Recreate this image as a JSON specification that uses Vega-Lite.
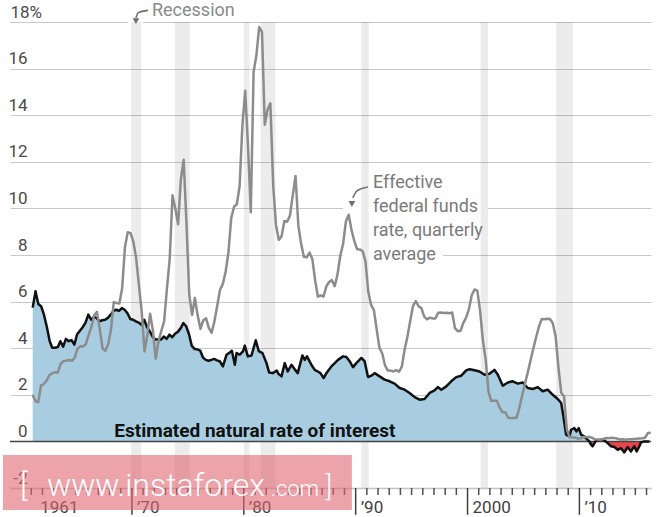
{
  "$schema": "https://vega.github.io/schema/vega-lite/v6.json",
  "width": 641,
  "height": 466,
  "autosize": "none",
  "padding": {"left": 10, "top": 22, "right": 14, "bottom": 29},
  "background": "white",
  "config": {
    "view": {"stroke": null},
    "font": "Roboto",
    "axis": {"labelFont": "Roboto"},
    "text": {"font": "Roboto"}
  },
  "datasets": {
    "gaps": [
      {"t1": 1969.64, "t2": 1971.0, "v1": 17.85, "v2": 18.15},
      {"t1": 1988.86, "t2": 2001.8, "v1": 9.85, "v2": 10.15},
      {"t1": 1988.86, "t2": 1997.8, "v1": 7.85, "v2": 8.15}
    ],
    "recessions": [
      {"start": 1969.92, "end": 1970.83},
      {"start": 1973.83, "end": 1975.17},
      {"start": 1980.0, "end": 1980.5},
      {"start": 1981.5, "end": 1982.83},
      {"start": 1990.5, "end": 1991.17},
      {"start": 2001.17, "end": 2001.83},
      {"start": 2007.92, "end": 2009.42}
    ],
    "years": [
      {"yr": 1961}, {"yr": 1962}, {"yr": 1963}, {"yr": 1964}, {"yr": 1965}, {"yr": 1966}, {"yr": 1967}, {"yr": 1968}, {"yr": 1969},
      {"yr": 1971}, {"yr": 1972}, {"yr": 1973}, {"yr": 1974}, {"yr": 1975}, {"yr": 1976}, {"yr": 1977}, {"yr": 1978}, {"yr": 1979},
      {"yr": 1981}, {"yr": 1982}, {"yr": 1983}, {"yr": 1984}, {"yr": 1985}, {"yr": 1986}, {"yr": 1987}, {"yr": 1988}, {"yr": 1989},
      {"yr": 1991}, {"yr": 1992}, {"yr": 1993}, {"yr": 1994}, {"yr": 1995}, {"yr": 1996}, {"yr": 1997}, {"yr": 1998}, {"yr": 1999},
      {"yr": 2001}, {"yr": 2002}, {"yr": 2003}, {"yr": 2004}, {"yr": 2005}, {"yr": 2006}, {"yr": 2007}, {"yr": 2008}, {"yr": 2009},
      {"yr": 2011}, {"yr": 2012}, {"yr": 2013}, {"yr": 2014}, {"yr": 2015}, {"yr": 2016}
    ],
    "decades": [
      {"yr": 1970, "lab": "’70"}, {"yr": 1980, "lab": "’80"}, {"yr": 1990, "lab": "’90"}, {"yr": 2000, "lab": "2000"}, {"yr": 2010, "lab": "’10"}
    ],
    "natural": [
      {"t": 1961.13, "r": 5.74}, {"t": 1961.38, "r": 6.44}, {"t": 1961.63, "r": 5.9}, {"t": 1961.88, "r": 5.8},
      {"t": 1962.13, "r": 5.45}, {"t": 1962.4, "r": 4.9}, {"t": 1962.65, "r": 4.3}, {"t": 1962.88, "r": 4.02},
      {"t": 1963.13, "r": 4.02}, {"t": 1963.38, "r": 4.05}, {"t": 1963.6, "r": 4.3}, {"t": 1963.85, "r": 4.07},
      {"t": 1964.1, "r": 4.4}, {"t": 1964.35, "r": 4.3}, {"t": 1964.6, "r": 4.35}, {"t": 1964.85, "r": 4.15},
      {"t": 1965.1, "r": 4.6}, {"t": 1965.35, "r": 4.75}, {"t": 1965.6, "r": 4.9}, {"t": 1965.85, "r": 5.1},
      {"t": 1966.1, "r": 5.44}, {"t": 1966.35, "r": 5.22}, {"t": 1966.6, "r": 5.35}, {"t": 1966.85, "r": 5.29},
      {"t": 1967.1, "r": 5.15}, {"t": 1967.35, "r": 5.2}, {"t": 1967.6, "r": 5.22}, {"t": 1967.85, "r": 5.3},
      {"t": 1968.1, "r": 5.44}, {"t": 1968.35, "r": 5.6}, {"t": 1968.6, "r": 5.65}, {"t": 1968.85, "r": 5.6},
      {"t": 1969.1, "r": 5.72}, {"t": 1969.35, "r": 5.65}, {"t": 1969.6, "r": 5.5}, {"t": 1969.85, "r": 5.25},
      {"t": 1970.1, "r": 5.22}, {"t": 1970.35, "r": 5.15}, {"t": 1970.6, "r": 5.1}, {"t": 1970.85, "r": 5.0},
      {"t": 1971.1, "r": 5.22}, {"t": 1971.35, "r": 4.9}, {"t": 1971.6, "r": 4.72}, {"t": 1971.85, "r": 4.5},
      {"t": 1972.1, "r": 4.37}, {"t": 1972.35, "r": 4.37}, {"t": 1972.6, "r": 4.37}, {"t": 1972.85, "r": 4.5},
      {"t": 1973.1, "r": 4.4}, {"t": 1973.35, "r": 4.58}, {"t": 1973.6, "r": 4.47}, {"t": 1973.85, "r": 4.62},
      {"t": 1974.1, "r": 4.7}, {"t": 1974.35, "r": 4.85}, {"t": 1974.6, "r": 5.08}, {"t": 1974.85, "r": 4.94},
      {"t": 1975.1, "r": 4.6}, {"t": 1975.35, "r": 4.1}, {"t": 1975.6, "r": 3.97}, {"t": 1975.85, "r": 3.95},
      {"t": 1976.1, "r": 3.9}, {"t": 1976.35, "r": 3.6}, {"t": 1976.6, "r": 3.5}, {"t": 1976.85, "r": 3.46},
      {"t": 1977.1, "r": 3.5}, {"t": 1977.35, "r": 3.54}, {"t": 1977.6, "r": 3.48}, {"t": 1977.85, "r": 3.44},
      {"t": 1978.13, "r": 3.22}, {"t": 1978.46, "r": 3.72}, {"t": 1978.75, "r": 3.82}, {"t": 1978.93, "r": 3.89},
      {"t": 1979.2, "r": 3.29}, {"t": 1979.35, "r": 3.79}, {"t": 1979.64, "r": 3.72}, {"t": 1979.94, "r": 3.87},
      {"t": 1980.09, "r": 4.11}, {"t": 1980.36, "r": 3.65}, {"t": 1980.69, "r": 3.69}, {"t": 1981.07, "r": 4.34},
      {"t": 1981.34, "r": 3.87}, {"t": 1981.67, "r": 3.79}, {"t": 1982.03, "r": 3.36}, {"t": 1982.26, "r": 2.96},
      {"t": 1982.59, "r": 2.93}, {"t": 1982.95, "r": 3.04}, {"t": 1983.1, "r": 2.9}, {"t": 1983.37, "r": 2.79},
      {"t": 1983.66, "r": 3.36}, {"t": 1983.93, "r": 3.0}, {"t": 1984.26, "r": 3.29}, {"t": 1984.55, "r": 3.1},
      {"t": 1984.82, "r": 2.93}, {"t": 1985.24, "r": 3.69}, {"t": 1985.45, "r": 3.5}, {"t": 1985.65, "r": 3.65},
      {"t": 1986.04, "r": 3.29}, {"t": 1986.34, "r": 3.07}, {"t": 1986.61, "r": 3.0}, {"t": 1986.85, "r": 2.93},
      {"t": 1987.14, "r": 2.72}, {"t": 1987.38, "r": 2.93}, {"t": 1987.83, "r": 3.22}, {"t": 1988.13, "r": 3.36},
      {"t": 1988.42, "r": 3.5}, {"t": 1988.87, "r": 3.65}, {"t": 1989.17, "r": 3.62}, {"t": 1989.46, "r": 3.44},
      {"t": 1989.76, "r": 3.19}, {"t": 1990.06, "r": 3.36}, {"t": 1990.51, "r": 3.58}, {"t": 1990.8, "r": 3.44},
      {"t": 1991.1, "r": 2.76}, {"t": 1991.4, "r": 2.82}, {"t": 1991.7, "r": 2.93}, {"t": 1992.14, "r": 2.79},
      {"t": 1992.59, "r": 2.65}, {"t": 1993.04, "r": 2.58}, {"t": 1993.48, "r": 2.48}, {"t": 1993.93, "r": 2.29},
      {"t": 1994.38, "r": 2.22}, {"t": 1994.82, "r": 2.08}, {"t": 1995.27, "r": 1.9}, {"t": 1995.71, "r": 1.79},
      {"t": 1996.16, "r": 1.82}, {"t": 1996.61, "r": 2.08}, {"t": 1997.05, "r": 2.19}, {"t": 1997.35, "r": 2.33},
      {"t": 1997.65, "r": 2.22}, {"t": 1998.1, "r": 2.36}, {"t": 1998.54, "r": 2.58}, {"t": 1998.99, "r": 2.76},
      {"t": 1999.44, "r": 2.82}, {"t": 1999.88, "r": 3.05}, {"t": 2000.18, "r": 3.1}, {"t": 2000.63, "r": 3.05},
      {"t": 2001.07, "r": 3.0}, {"t": 2001.52, "r": 2.86}, {"t": 2001.96, "r": 2.9}, {"t": 2002.41, "r": 3.07},
      {"t": 2002.71, "r": 2.86}, {"t": 2003.15, "r": 2.39}, {"t": 2003.6, "r": 2.53}, {"t": 2004.04, "r": 2.58},
      {"t": 2004.49, "r": 2.48}, {"t": 2004.94, "r": 2.53}, {"t": 2005.38, "r": 2.29}, {"t": 2005.83, "r": 2.25},
      {"t": 2006.28, "r": 2.33}, {"t": 2006.72, "r": 2.15}, {"t": 2007.17, "r": 2.22}, {"t": 2007.62, "r": 2.0},
      {"t": 2008.06, "r": 1.82}, {"t": 2008.37, "r": 1.65}, {"t": 2008.57, "r": 1.07}, {"t": 2008.81, "r": 0.29},
      {"t": 2009.11, "r": 0.21}, {"t": 2009.26, "r": 0.5}, {"t": 2009.55, "r": 0.57}, {"t": 2009.73, "r": 0.43},
      {"t": 2009.94, "r": 0.57}, {"t": 2010.15, "r": 0.29}, {"t": 2010.45, "r": 0.21}, {"t": 2010.74, "r": 0.07},
      {"t": 2010.89, "r": 0.0}, {"t": 2011.04, "r": -0.14}, {"t": 2011.18, "r": -0.21}, {"t": 2011.49, "r": 0.04},
      {"t": 2011.94, "r": 0.07}, {"t": 2012.23, "r": 0.04}, {"t": 2012.53, "r": -0.07}, {"t": 2012.83, "r": -0.21},
      {"t": 2013.13, "r": -0.24}, {"t": 2013.42, "r": -0.36}, {"t": 2013.72, "r": -0.29}, {"t": 2014.02, "r": -0.47},
      {"t": 2014.31, "r": -0.24}, {"t": 2014.61, "r": -0.43}, {"t": 2014.91, "r": -0.21}, {"t": 2015.12, "r": -0.43},
      {"t": 2015.36, "r": -0.21}, {"t": 2015.51, "r": -0.04}, {"t": 2015.8, "r": 0.0}, {"t": 2016.25, "r": 0.0}
    ],
    "fedfunds": [
      {"t": 1961.125, "ff": 2.0}, {"t": 1961.375, "ff": 1.73}, {"t": 1961.625, "ff": 1.68}, {"t": 1961.875, "ff": 2.4},
      {"t": 1962.125, "ff": 2.46}, {"t": 1962.375, "ff": 2.61}, {"t": 1962.625, "ff": 2.85}, {"t": 1962.875, "ff": 2.92},
      {"t": 1963.125, "ff": 2.97}, {"t": 1963.375, "ff": 2.96}, {"t": 1963.625, "ff": 3.33}, {"t": 1963.875, "ff": 3.45},
      {"t": 1964.125, "ff": 3.46}, {"t": 1964.375, "ff": 3.49}, {"t": 1964.625, "ff": 3.46}, {"t": 1964.875, "ff": 3.58},
      {"t": 1965.125, "ff": 3.97}, {"t": 1965.375, "ff": 4.08}, {"t": 1965.625, "ff": 4.07}, {"t": 1965.875, "ff": 4.17},
      {"t": 1966.125, "ff": 4.56}, {"t": 1966.375, "ff": 4.91}, {"t": 1966.625, "ff": 5.41}, {"t": 1966.875, "ff": 5.56},
      {"t": 1967.125, "ff": 4.82}, {"t": 1967.375, "ff": 3.99}, {"t": 1967.625, "ff": 3.89}, {"t": 1967.875, "ff": 4.17},
      {"t": 1968.125, "ff": 4.79}, {"t": 1968.375, "ff": 5.98}, {"t": 1968.625, "ff": 5.94}, {"t": 1968.875, "ff": 5.92},
      {"t": 1969.125, "ff": 6.57}, {"t": 1969.375, "ff": 8.33}, {"t": 1969.625, "ff": 8.98}, {"t": 1969.875, "ff": 8.94},
      {"t": 1970.125, "ff": 8.57}, {"t": 1970.375, "ff": 7.88}, {"t": 1970.625, "ff": 6.7}, {"t": 1970.875, "ff": 5.57},
      {"t": 1971.125, "ff": 3.86}, {"t": 1971.375, "ff": 4.56}, {"t": 1971.625, "ff": 5.48}, {"t": 1971.875, "ff": 4.75},
      {"t": 1972.125, "ff": 3.55}, {"t": 1972.375, "ff": 4.3}, {"t": 1972.625, "ff": 4.74}, {"t": 1972.875, "ff": 5.14},
      {"t": 1973.125, "ff": 6.54}, {"t": 1973.375, "ff": 7.82}, {"t": 1973.625, "ff": 10.56}, {"t": 1973.875, "ff": 10.0},
      {"t": 1974.125, "ff": 9.32}, {"t": 1974.375, "ff": 11.25}, {"t": 1974.625, "ff": 12.09}, {"t": 1974.875, "ff": 9.35},
      {"t": 1975.125, "ff": 6.3}, {"t": 1975.375, "ff": 5.42}, {"t": 1975.625, "ff": 6.16}, {"t": 1975.875, "ff": 5.41},
      {"t": 1976.125, "ff": 4.83}, {"t": 1976.375, "ff": 5.2}, {"t": 1976.625, "ff": 5.28}, {"t": 1976.875, "ff": 4.87},
      {"t": 1977.125, "ff": 4.66}, {"t": 1977.375, "ff": 5.16}, {"t": 1977.625, "ff": 5.82}, {"t": 1977.875, "ff": 6.51},
      {"t": 1978.125, "ff": 6.76}, {"t": 1978.375, "ff": 7.28}, {"t": 1978.625, "ff": 8.1}, {"t": 1978.875, "ff": 9.58},
      {"t": 1979.125, "ff": 10.07}, {"t": 1979.375, "ff": 10.18}, {"t": 1979.625, "ff": 10.95}, {"t": 1979.875, "ff": 13.58},
      {"t": 1980.125, "ff": 15.05}, {"t": 1980.375, "ff": 12.69}, {"t": 1980.625, "ff": 9.84}, {"t": 1980.875, "ff": 15.85},
      {"t": 1981.125, "ff": 16.57}, {"t": 1981.375, "ff": 17.78}, {"t": 1981.625, "ff": 17.58}, {"t": 1981.875, "ff": 13.59},
      {"t": 1982.125, "ff": 14.23}, {"t": 1982.375, "ff": 14.51}, {"t": 1982.625, "ff": 11.01}, {"t": 1982.875, "ff": 9.29},
      {"t": 1983.125, "ff": 8.65}, {"t": 1983.375, "ff": 8.8}, {"t": 1983.625, "ff": 9.46}, {"t": 1983.875, "ff": 9.43},
      {"t": 1984.125, "ff": 9.69}, {"t": 1984.375, "ff": 10.56}, {"t": 1984.625, "ff": 11.39}, {"t": 1984.875, "ff": 9.27},
      {"t": 1985.125, "ff": 8.48}, {"t": 1985.375, "ff": 7.92}, {"t": 1985.625, "ff": 7.9}, {"t": 1985.875, "ff": 8.1},
      {"t": 1986.125, "ff": 7.83}, {"t": 1986.375, "ff": 6.92}, {"t": 1986.625, "ff": 6.21}, {"t": 1986.875, "ff": 6.27},
      {"t": 1987.125, "ff": 6.22}, {"t": 1987.375, "ff": 6.65}, {"t": 1987.625, "ff": 6.84}, {"t": 1987.875, "ff": 6.92},
      {"t": 1988.125, "ff": 6.66}, {"t": 1988.375, "ff": 7.16}, {"t": 1988.625, "ff": 7.98}, {"t": 1988.875, "ff": 8.47},
      {"t": 1989.125, "ff": 9.44}, {"t": 1989.375, "ff": 9.73}, {"t": 1989.625, "ff": 9.08}, {"t": 1989.875, "ff": 8.61},
      {"t": 1990.125, "ff": 8.25}, {"t": 1990.375, "ff": 8.24}, {"t": 1990.625, "ff": 8.16}, {"t": 1990.875, "ff": 7.74},
      {"t": 1991.125, "ff": 6.43}, {"t": 1991.375, "ff": 5.86}, {"t": 1991.625, "ff": 5.64}, {"t": 1991.875, "ff": 4.82},
      {"t": 1992.125, "ff": 4.02}, {"t": 1992.375, "ff": 3.77}, {"t": 1992.625, "ff": 3.26}, {"t": 1992.875, "ff": 3.04},
      {"t": 1993.125, "ff": 3.04}, {"t": 1993.375, "ff": 3.0}, {"t": 1993.625, "ff": 3.06}, {"t": 1993.875, "ff": 2.99},
      {"t": 1994.125, "ff": 3.21}, {"t": 1994.375, "ff": 3.94}, {"t": 1994.625, "ff": 4.49}, {"t": 1994.875, "ff": 5.17},
      {"t": 1995.125, "ff": 5.81}, {"t": 1995.375, "ff": 6.02}, {"t": 1995.625, "ff": 5.8}, {"t": 1995.875, "ff": 5.72},
      {"t": 1996.125, "ff": 5.36}, {"t": 1996.375, "ff": 5.24}, {"t": 1996.625, "ff": 5.31}, {"t": 1996.875, "ff": 5.28},
      {"t": 1997.125, "ff": 5.28}, {"t": 1997.375, "ff": 5.52}, {"t": 1997.625, "ff": 5.53}, {"t": 1997.875, "ff": 5.51},
      {"t": 1998.125, "ff": 5.52}, {"t": 1998.375, "ff": 5.5}, {"t": 1998.625, "ff": 5.53}, {"t": 1998.875, "ff": 4.86},
      {"t": 1999.125, "ff": 4.73}, {"t": 1999.375, "ff": 4.75}, {"t": 1999.625, "ff": 5.09}, {"t": 1999.875, "ff": 5.31},
      {"t": 2000.125, "ff": 5.68}, {"t": 2000.375, "ff": 6.27}, {"t": 2000.625, "ff": 6.52}, {"t": 2000.875, "ff": 6.47},
      {"t": 2001.125, "ff": 5.59}, {"t": 2001.375, "ff": 4.33}, {"t": 2001.625, "ff": 3.5}, {"t": 2001.875, "ff": 2.13},
      {"t": 2002.125, "ff": 1.73}, {"t": 2002.375, "ff": 1.75}, {"t": 2002.625, "ff": 1.74}, {"t": 2002.875, "ff": 1.44},
      {"t": 2003.125, "ff": 1.25}, {"t": 2003.375, "ff": 1.25}, {"t": 2003.625, "ff": 1.02}, {"t": 2003.875, "ff": 1.0},
      {"t": 2004.125, "ff": 1.0}, {"t": 2004.375, "ff": 1.01}, {"t": 2004.625, "ff": 1.43}, {"t": 2004.875, "ff": 1.95},
      {"t": 2005.125, "ff": 2.47}, {"t": 2005.375, "ff": 2.94}, {"t": 2005.625, "ff": 3.46}, {"t": 2005.875, "ff": 3.98},
      {"t": 2006.125, "ff": 4.46}, {"t": 2006.375, "ff": 4.91}, {"t": 2006.625, "ff": 5.25}, {"t": 2006.875, "ff": 5.24},
      {"t": 2007.125, "ff": 5.26}, {"t": 2007.375, "ff": 5.25}, {"t": 2007.625, "ff": 5.07}, {"t": 2007.875, "ff": 4.5},
      {"t": 2008.125, "ff": 3.18}, {"t": 2008.375, "ff": 2.09}, {"t": 2008.625, "ff": 1.94}, {"t": 2008.875, "ff": 0.51},
      {"t": 2009.125, "ff": 0.18}, {"t": 2009.375, "ff": 0.18}, {"t": 2009.625, "ff": 0.16}, {"t": 2009.875, "ff": 0.12},
      {"t": 2010.125, "ff": 0.13}, {"t": 2010.375, "ff": 0.19}, {"t": 2010.625, "ff": 0.19}, {"t": 2010.875, "ff": 0.19},
      {"t": 2011.125, "ff": 0.16}, {"t": 2011.375, "ff": 0.09}, {"t": 2011.625, "ff": 0.08}, {"t": 2011.875, "ff": 0.07},
      {"t": 2012.125, "ff": 0.1}, {"t": 2012.375, "ff": 0.15}, {"t": 2012.625, "ff": 0.14}, {"t": 2012.875, "ff": 0.16},
      {"t": 2013.125, "ff": 0.14}, {"t": 2013.375, "ff": 0.12}, {"t": 2013.625, "ff": 0.08}, {"t": 2013.875, "ff": 0.09},
      {"t": 2014.125, "ff": 0.07}, {"t": 2014.375, "ff": 0.09}, {"t": 2014.625, "ff": 0.09}, {"t": 2014.875, "ff": 0.1},
      {"t": 2015.125, "ff": 0.11}, {"t": 2015.375, "ff": 0.12}, {"t": 2015.625, "ff": 0.13}, {"t": 2015.875, "ff": 0.16},
      {"t": 2016.125, "ff": 0.36}, {"t": 2016.375, "ff": 0.37}
    ],
    "arrows": [
      {"id": "rec", "t": 1970.36, "v": 18.17},
      {"id": "rec", "t": 1970.54, "v": 18.39},
      {"id": "rec", "t": 1971.43, "v": 18.5},
      {"id": "ff", "t": 1989.75, "v": 10.45},
      {"id": "ff", "t": 1990.11, "v": 10.75},
      {"id": "ff", "t": 1991.09, "v": 10.92}
    ],
    "heads": [
      {"t": 1970.36, "v": 18.04},
      {"t": 1989.66, "v": 10.19}
    ],
    "fflabel": [
      {"txt": "Effective", "t": 1991.54, "v": 11.09},
      {"txt": "federal funds", "t": 1991.54, "v": 10.06},
      {"txt": "rate, quarterly", "t": 1991.54, "v": 9.03},
      {"txt": "average", "t": 1991.54, "v": 8.0}
    ]
  },
  "layer": [
    {
      "data": {"name": "gaps"},
      "mark": {"type": "rect", "fill": "white"},
      "encoding": {
        "x": {
          "field": "t1",
          "type": "quantitative",
          "scale": {"domain": [1959.1, 2016.4], "nice": false, "zero": false},
          "axis": {
            "title": null,
            "orient": "bottom",
            "grid": false,
            "domainColor": "#c4c4c4",
            "domainWidth": 1.5,
            "ticks": false,
            "labels": false
          }
        },
        "x2": {"field": "t2"},
        "y": {
          "field": "v1",
          "type": "quantitative",
          "scale": {"domain": [-2, 18], "nice": false, "zero": false},
          "axis": {
            "title": null,
            "orient": "left",
            "values": [-2, 0, 2, 4, 6, 8, 10, 12, 14, 16, 18],
            "domain": false,
            "ticks": false,
            "grid": true,
            "gridColor": "#c8c8c8",
            "gridWidth": 1,
            "labelExpr": "datum.value === 18 ? '18%' : datum.value < 0 ? '-' + toString(-datum.value) : toString(datum.value)",
            "labelAlign": {"condition": {"test": "datum.value === 18", "value": "left"}, "value": "right"},
            "labelPadding": {"condition": {"test": "datum.value === 18", "value": 0}, "value": -17},
            "labelBaseline": "alphabetic",
            "labelOffset": -5,
            "labelFontSize": 17,
            "labelColor": "#4a4a4a",
            "labelOverlap": false,
            "labelBound": false,
            "labelFlush": false
          }
        },
        "y2": {"field": "v2"}
      }
    },
    {
      "data": {"name": "recessions"},
      "mark": {"type": "rect", "fill": "#000000", "opacity": 0.075},
      "encoding": {
        "x": {"field": "start", "type": "quantitative"},
        "x2": {"field": "end"},
        "y": {"datum": 18, "type": "quantitative"},
        "y2": {"datum": -2}
      }
    },
    {
      "data": {"name": "years"},
      "mark": {"type": "rule", "color": "#505050", "strokeWidth": 1.5},
      "encoding": {
        "x": {"field": "yr", "type": "quantitative"},
        "y": {"datum": -2, "type": "quantitative"},
        "y2": {"datum": -2.3}
      }
    },
    {
      "data": {"name": "decades"},
      "mark": {"type": "rule", "color": "#404040", "strokeWidth": 1.5},
      "encoding": {
        "x": {"field": "yr", "type": "quantitative"},
        "y": {"datum": -2, "type": "quantitative"},
        "y2": {"datum": -3.15}
      }
    },
    {
      "data": {"name": "decades"},
      "mark": {"type": "text", "align": "left", "baseline": "alphabetic", "dx": 5, "fontSize": 17, "color": "#404040"},
      "encoding": {
        "x": {"field": "yr", "type": "quantitative"},
        "y": {"datum": -3.07, "type": "quantitative"},
        "text": {"field": "lab"}
      }
    },
    {
      "data": {"values": [{}]},
      "mark": {"type": "text", "text": "1961", "align": "left", "baseline": "alphabetic", "dx": 9, "fontSize": 17, "color": "#404040"},
      "encoding": {
        "x": {"datum": 1961, "type": "quantitative"},
        "y": {"datum": -3.07, "type": "quantitative"}
      }
    },
    {
      "data": {"name": "natural"},
      "transform": [{"filter": "datum.t <= 2010.89"}],
      "mark": {"type": "area", "color": "#a8cde0"},
      "encoding": {
        "x": {"field": "t", "type": "quantitative"},
        "y": {"field": "r", "type": "quantitative"},
        "y2": {"datum": 0}
      }
    },
    {
      "data": {"name": "natural"},
      "transform": [{"filter": "datum.t >= 2010.89"}],
      "mark": {"type": "area", "color": "#e8454d"},
      "encoding": {
        "x": {"field": "t", "type": "quantitative"},
        "y": {"field": "r", "type": "quantitative"},
        "y2": {"datum": 0}
      }
    },
    {
      "data": {"values": [{}]},
      "mark": {"type": "rule", "color": "#444444", "strokeWidth": 1.5},
      "encoding": {"y": {"datum": 0, "type": "quantitative"}}
    },
    {
      "data": {"name": "natural"},
      "mark": {"type": "line", "color": "#111111", "strokeWidth": 2.5, "strokeJoin": "round"},
      "encoding": {
        "x": {"field": "t", "type": "quantitative"},
        "y": {"field": "r", "type": "quantitative"}
      }
    },
    {
      "data": {"name": "fedfunds"},
      "mark": {"type": "line", "color": "#8c8c8c", "strokeWidth": 2.5, "strokeJoin": "round"},
      "encoding": {
        "x": {"field": "t", "type": "quantitative"},
        "y": {"field": "ff", "type": "quantitative"}
      }
    },
    {
      "data": {"name": "arrows"},
      "mark": {"type": "line", "color": "#6f6f6f", "strokeWidth": 1.6, "interpolate": "monotone"},
      "encoding": {
        "x": {"field": "t", "type": "quantitative"},
        "y": {"field": "v", "type": "quantitative"},
        "detail": {"field": "id"}
      }
    },
    {
      "data": {"name": "heads"},
      "mark": {"type": "point", "shape": "triangle-down", "filled": true, "color": "#6f6f6f", "opacity": 1, "size": 45},
      "encoding": {
        "x": {"field": "t", "type": "quantitative"},
        "y": {"field": "v", "type": "quantitative"}
      }
    },
    {
      "data": {"values": [{}]},
      "mark": {"type": "text", "text": "Recession", "align": "left", "baseline": "middle", "fontSize": 18, "color": "#8a8a8a"},
      "encoding": {
        "x": {"datum": 1971.79, "type": "quantitative"},
        "y": {"datum": 18.47, "type": "quantitative"}
      }
    },
    {
      "data": {"name": "fflabel"},
      "mark": {"type": "text", "align": "left", "baseline": "middle", "fontSize": 18, "color": "#7a7a7a"},
      "encoding": {
        "x": {"field": "t", "type": "quantitative"},
        "y": {"field": "v", "type": "quantitative"},
        "text": {"field": "txt"}
      }
    },
    {
      "data": {"values": [{}]},
      "mark": {"type": "text", "text": "Estimated natural rate of interest", "align": "center", "baseline": "middle", "fontSize": 19, "fontWeight": "bold", "color": "#111111"},
      "encoding": {
        "x": {"datum": 1980.99, "type": "quantitative"},
        "y": {"datum": 0.45, "type": "quantitative"}
      }
    },
    {
      "data": {"values": [{}]},
      "mark": {"type": "rect", "fill": "#df6670", "opacity": 0.6},
      "encoding": {
        "x": {"datum": 1958.47, "type": "quantitative"},
        "x2": {"datum": 1989.66},
        "y": {"datum": -0.58, "type": "quantitative"},
        "y2": {"datum": -2.94}
      }
    },
    {
      "data": {"values": [{}]},
      "mark": {"type": "text", "text": "[", "align": "left", "baseline": "alphabetic", "fontSize": 32, "fontWeight": 300, "color": "white"},
      "encoding": {
        "x": {"datum": 1959.99, "type": "quantitative"},
        "y": {"datum": -2.34, "type": "quantitative"}
      }
    },
    {
      "data": {"values": [{}]},
      "mark": {"type": "text", "text": "www.instaforex", "align": "left", "baseline": "alphabetic", "fontSize": 32, "fontWeight": 300, "color": "white"},
      "encoding": {
        "x": {"datum": 1962.41, "type": "quantitative"},
        "y": {"datum": -2.34, "type": "quantitative"}
      }
    },
    {
      "data": {"values": [{}]},
      "mark": {"type": "text", "text": ".com", "align": "left", "baseline": "alphabetic", "fontSize": 22, "fontWeight": 300, "color": "white"},
      "encoding": {
        "x": {"datum": 1982.4, "type": "quantitative"},
        "y": {"datum": -2.34, "type": "quantitative"}
      }
    },
    {
      "data": {"values": [{}]},
      "mark": {"type": "text", "text": "]", "align": "left", "baseline": "alphabetic", "fontSize": 28, "fontWeight": 300, "color": "white"},
      "encoding": {
        "x": {"datum": 1987.3, "type": "quantitative"},
        "y": {"datum": -2.34, "type": "quantitative"}
      }
    }
  ]
}
